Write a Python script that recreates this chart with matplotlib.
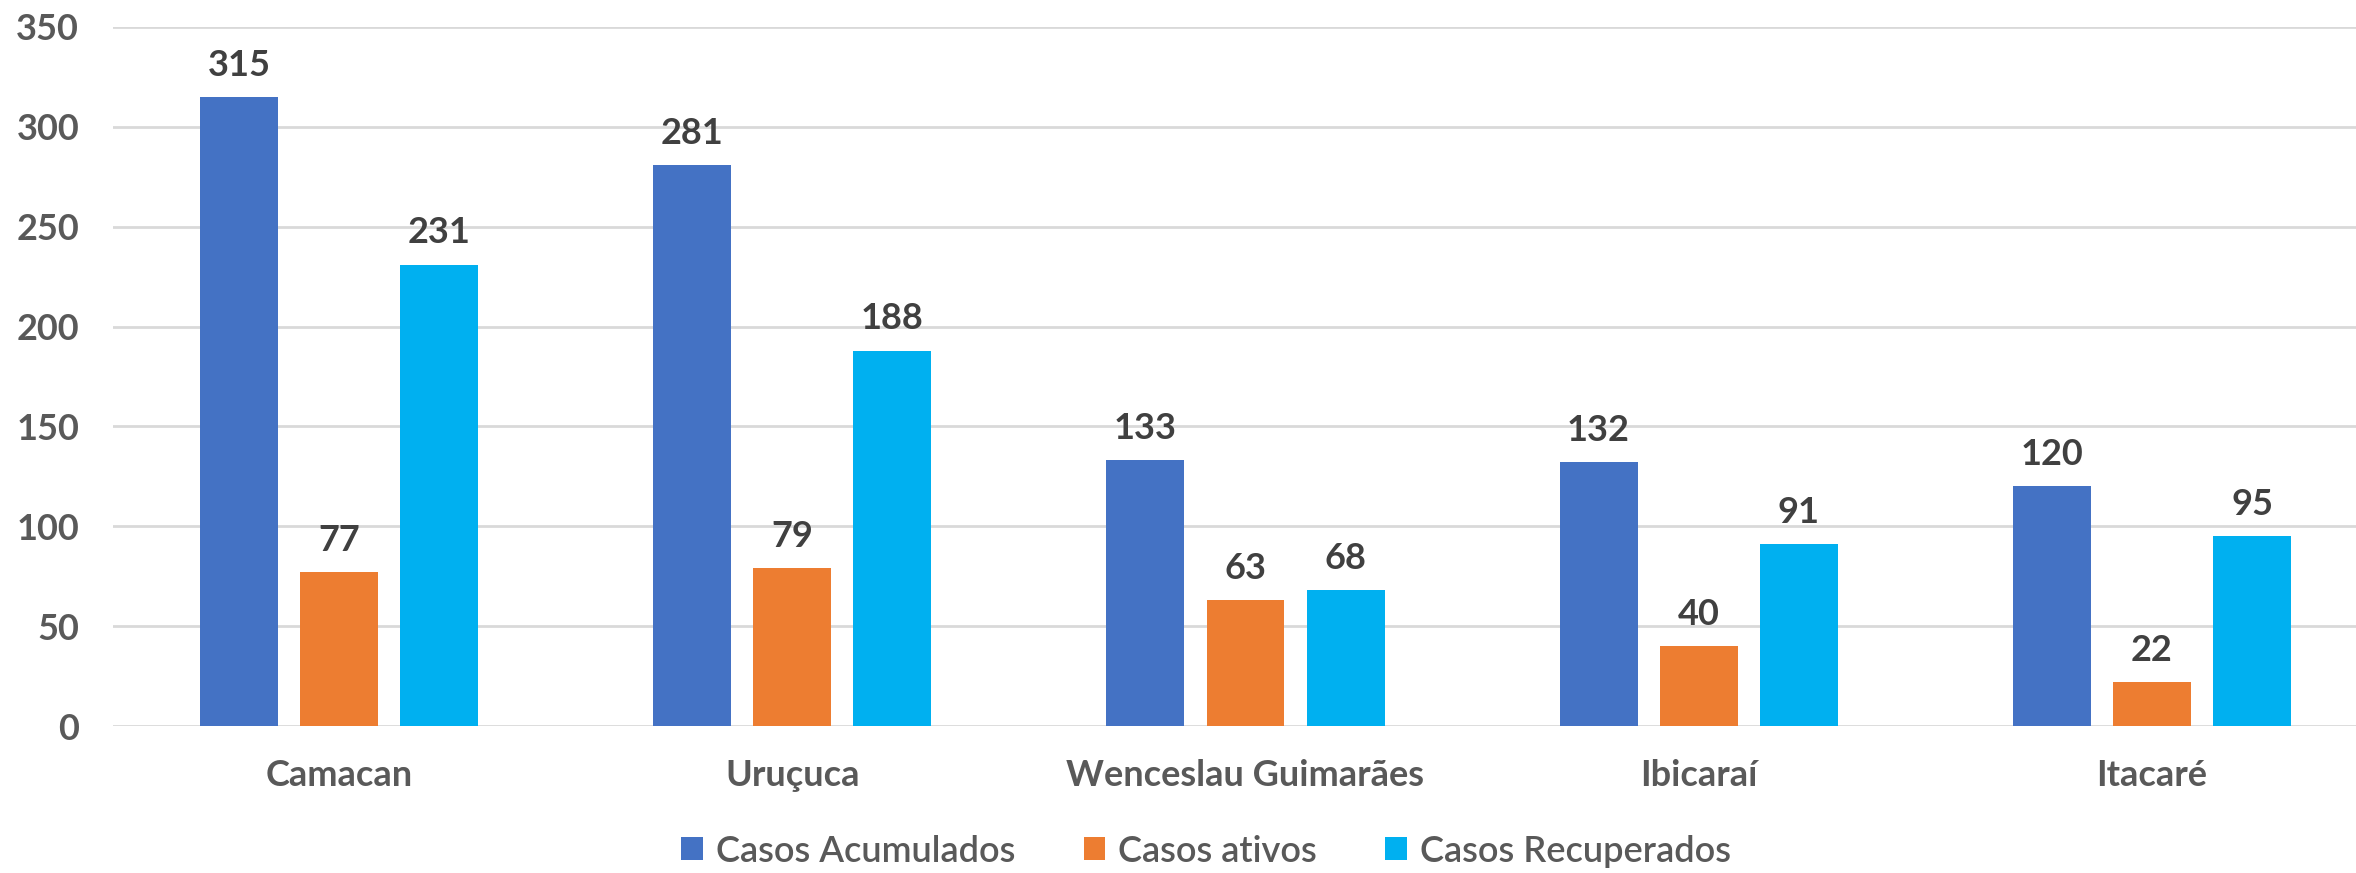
import numpy as np
import matplotlib.pyplot as plt

plt.rcParams['font.family'] = ['Lato', 'DejaVu Sans']

cidades = ["Camacan", "Uruçuca", "Wenceslau Guimarães", "Ibicaraí", "Itacaré"]
acumulados = [315, 281, 133, 132, 120]
ativos = [77, 79, 63, 40, 22]
recuperados = [231, 188, 68, 91, 95]

series = [("Casos Acumulados", acumulados, "#4472C4"),
          ("Casos ativos", ativos, "#ED7D31"),
          ("Casos Recuperados", recuperados, "#00B0F0")]

fig = plt.figure(figsize=(23.56, 8.73), dpi=100)
ax = fig.add_axes([112.5 / 2356, 147 / 873, 2266 / 2356, 699 / 873])

x = np.arange(len(cidades))
w = 0.172
step = 0.221
for i, (nome, vals, cor) in enumerate(series):
    bars = ax.bar(x + (i - 1) * step, vals, w, color=cor, label=nome, zorder=3)
    ax.bar_label(bars, padding=11, fontsize=26, fontweight='bold', color='#404040')

ax.set_xlim(-0.5, len(cidades) - 0.5)
ax.set_ylim(0, 350)
ax.set_yticks(range(0, 351, 50))
ax.set_xticks(x)
ax.set_xticklabels(cidades, fontsize=26, fontweight='bold', color='#595959')
ax.tick_params(axis='y', labelsize=26, colors='#595959', length=0, pad=24)
ax.tick_params(axis='x', length=0, pad=24)
for lbl in ax.get_yticklabels():
    lbl.set_fontweight('bold')
ax.grid(axis='y', color='#D9D9D9', linewidth=2, zorder=0)
for s in ax.spines.values():
    s.set_visible(False)

fig.legend(loc='center', bbox_to_anchor=(1206 / 2356, 1 - 851 / 873), ncol=3,
           frameon=False, handlelength=0.6, handleheight=0.6,
           columnspacing=1.9, handletextpad=0.35, labelcolor='#595959',
           prop={'size': 26, 'weight': 'semibold'})

plt.savefig('out.png')
